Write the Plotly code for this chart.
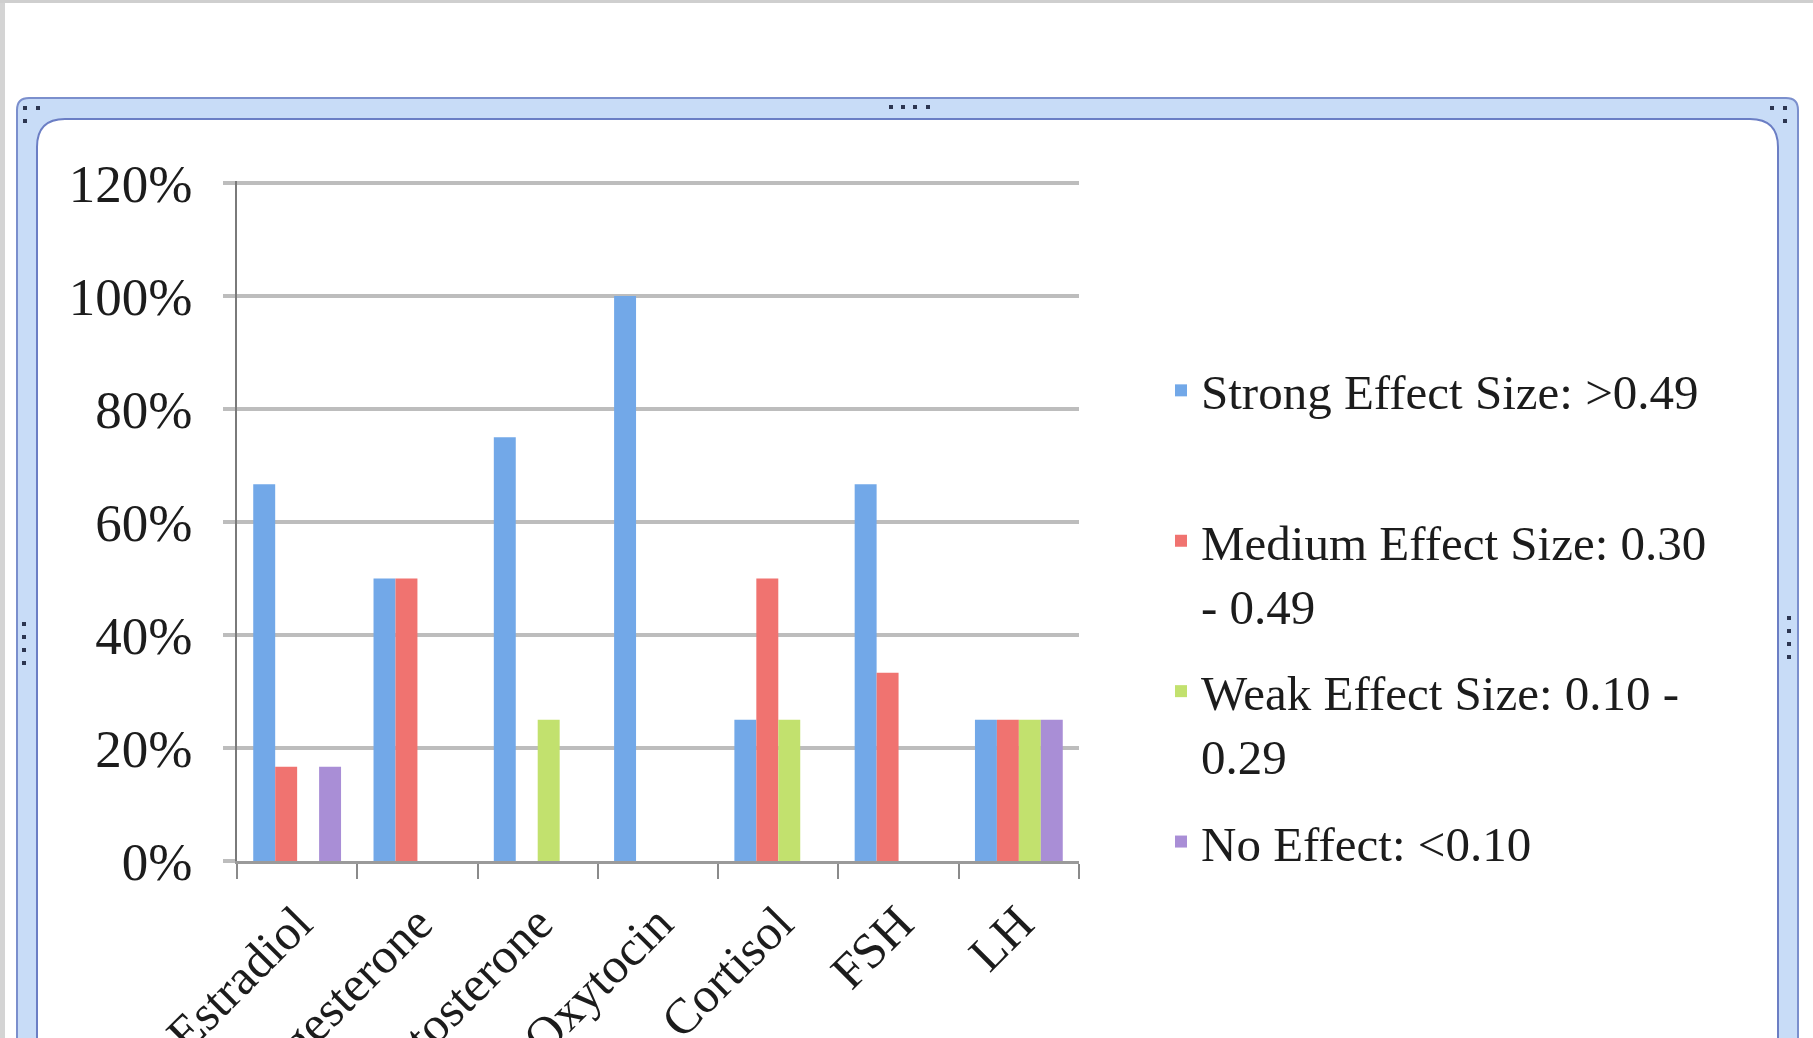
import plotly.graph_objects as go

# Hormones on the category axis
hormones = ["Estradiol", "Progesterone", "Testosterone", "Oxytocin", "Cortisol", "FSH", "LH"]

# Share of studies per effect-size class, for each hormone
strong = [0.667, 0.50, 0.75, 1.00, 0.25, 0.667, 0.25]
medium = [0.167, 0.50, 0.00, 0.00, 0.50, 0.333, 0.25]
weak = [0.00, 0.00, 0.25, 0.00, 0.25, 0.00, 0.25]
no_effect = [0.167, 0.00, 0.00, 0.00, 0.00, 0.00, 0.25]

series_names = [
    "Strong Effect Size: >0.49<br>&nbsp;",
    "Medium Effect Size: 0.30<br>- 0.49",
    "Weak Effect Size: 0.10 -<br>0.29",
    "No Effect: <0.10",
]
series_values = [strong, medium, weak, no_effect]
series_colors = ["#72a8e8", "#f07370", "#c2e16e", "#a98ed6"]

y_ticks = [0, 0.2, 0.4, 0.6, 0.8, 1.0, 1.2]

W, H = 1813, 1038
ML, MR, MT, MB = 237, 734, 181, 177
PW, PH = W - ML - MR, H - MT - MB
Y_TOP = 1.2 * PH / 678  # a hair above 120% so its gridline is drawn

FONT = "Liberation Serif"


def px_x(px):
    return (px - ML) / PW


def px_y(py):
    return (H - MB - py) / PH


def rounded_rect(left, top, right, bottom, r):
    pts = [
        ("M", [(left + r, top)]),
        ("L", [(right - r, top)]),
        ("Q", [(right, top), (right, top + r)]),
        ("L", [(right, bottom - r)]),
        ("Q", [(right, bottom), (right - r, bottom)]),
        ("L", [(left + r, bottom)]),
        ("Q", [(left, bottom), (left, bottom - r)]),
        ("L", [(left, top + r)]),
        ("Q", [(left, top), (left + r, top)]),
    ]
    out = []
    for cmd, coords in pts:
        out.append(cmd + " ".join(f"{px_x(a):.5f},{px_y(b):.5f}" for a, b in coords))
    return " ".join(out) + " Z"


fig = go.Figure()
for name, vals, color in zip(series_names, series_values, series_colors):
    fig.add_trace(go.Bar(
        x=hormones, y=vals, name=name, legendgroup=name,
        marker=dict(color=color, line=dict(width=0)),
    ))

shapes = []
# outer light strips of the window border
shapes.append(dict(type="rect", xref="paper", yref="paper",
                   x0=px_x(0), x1=px_x(5), y0=px_y(1040), y1=px_y(0),
                   fillcolor="#d4d4d4", line=dict(width=0), layer="below"))
shapes.append(dict(type="rect", xref="paper", yref="paper",
                   x0=px_x(0), x1=px_x(W), y0=px_y(3), y1=px_y(0),
                   fillcolor="#cfcfcf", line=dict(width=0), layer="below"))
# chart frame: blue band with rounded corners, white inner panel
shapes.append(dict(type="path", xref="paper", yref="paper",
                   path=rounded_rect(17, 98, 1798, 1120, 12),
                   fillcolor="#c8dcf7", line=dict(color="#7b8fcd", width=2), layer="below"))
shapes.append(dict(type="path", xref="paper", yref="paper",
                   path=rounded_rect(37, 119, 1778, 1130, 28),
                   fillcolor="#ffffff", line=dict(color="#6b7ec4", width=2), layer="below"))

# small grip handles on the frame
handles = [(25, 108), (38, 108), (25, 121),
           (1772, 108), (1785, 108), (1785, 121),
           (891, 107), (903, 107), (915, 107), (928, 107),
           (24, 624), (24, 637), (24, 650), (24, 663),
           (1789, 618), (1789, 631), (1789, 644), (1789, 657)]
for hx, hy in handles:
    shapes.append(dict(type="rect", xref="paper", yref="paper",
                       x0=px_x(hx - 2), x1=px_x(hx + 2), y0=px_y(hy + 2), y1=px_y(hy - 2),
                       fillcolor="#2c3550", line=dict(width=0), layer="below"))

fig.update_layout(
    width=W, height=H,
    margin=dict(l=ML, r=MR, t=MT, b=MB, autoexpand=False),
    paper_bgcolor="#ffffff",
    plot_bgcolor="rgba(0,0,0,0)",
    font=dict(family=FONT, size=50, color="#1c1c1c"),
    barmode="group",
    bargap=0.27,
    bargroupgap=0,
    shapes=shapes,
    showlegend=True,
    legend=dict(
        x=px_x(1161), y=px_y(352), xanchor="left", yanchor="top",
        font=dict(family=FONT, size=49, color="#1c1c1c"),
        bgcolor="rgba(0,0,0,0)", valign="top",
        tracegroupgap=20, traceorder="grouped",
    ),
)

fig.update_yaxes(
    range=[0, Y_TOP], tickvals=y_ticks, tickformat=".0%",
    showgrid=True, gridcolor="#bdbdbd", gridwidth=4,
    showline=True, linecolor="#7a7a7a", linewidth=2,
    ticks="outside", ticklen=12, tickwidth=4, tickcolor="#bdbdbd",
    ticklabelstandoff=20, zeroline=False, automargin=False,
    tickfont=dict(family=FONT, size=53, color="#1c1c1c"),
)
fig.update_xaxes(
    type="category", tickangle=-45, tickson="boundaries",
    showline=True, linecolor="#9a9a9a", linewidth=3,
    ticks="outside", ticklen=15, tickwidth=2, tickcolor="#8a8a8a",
    showgrid=False, automargin=False, ticklabelstandoff=10,
    tickfont=dict(family=FONT, size=50, color="#1c1c1c"),
)

fig.write_html("out.html")
